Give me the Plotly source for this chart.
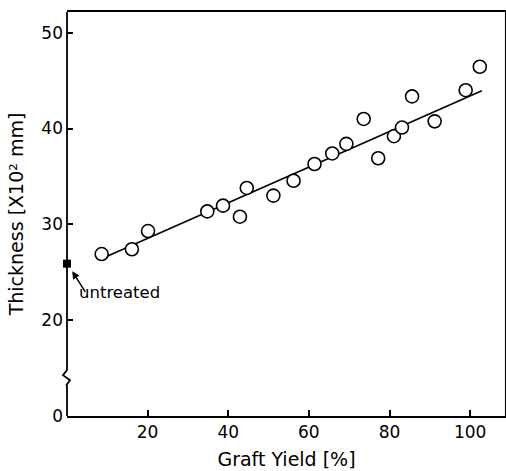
import plotly.graph_objects as go

# Data
graft_yield = [8.6, 16.1, 20.1, 34.8, 38.7, 42.9, 44.6, 51.2, 56.2, 61.4, 65.8,
               69.3, 73.6, 77.2, 81.1, 83.1, 85.6, 91.2, 98.9, 102.4]
thickness = [26.9, 27.4, 29.3, 31.35, 31.95, 30.8, 33.8, 33.0, 34.55, 36.3, 37.4,
             38.4, 41.0, 36.9, 39.2, 40.1, 43.35, 40.75, 44.0, 46.45]
fit_x = [10.1, 102.9]
fit_y = [26.7, 43.95]
untreated_x = [0]
untreated_y = [25.9]

x_ticks = [20, 40, 60, 80, 100]
y_tickvals = [10, 20, 30, 40, 50]   # position 10 shows the broken-axis "0"
y_ticktext = ["0", "20", "30", "40", "50"]

FONT = "DejaVu Sans"

fig = go.Figure()
fig.add_trace(go.Scatter(x=fit_x, y=fit_y, mode="lines",
                         line=dict(color="black", width=1.6), showlegend=False))
fig.add_trace(go.Scatter(x=graft_yield, y=thickness, mode="markers",
                         marker=dict(symbol="circle", size=13, color="white",
                                     line=dict(color="black", width=1.6)),
                         showlegend=False))
fig.add_trace(go.Scatter(x=untreated_x, y=untreated_y, mode="markers",
                         marker=dict(symbol="square", size=8, color="black"),
                         cliponaxis=False, showlegend=False))

# Left axis line with break squiggle
fig.add_shape(type="path", xref="paper", yref="y",
              path="M 0,52.16 L 0,14.8 L -0.0091,14.26 L 0.0068,13.74 L -0.001,13.25 L 0,13.1 L 0,10",
              line=dict(color="black", width=1.8))
# Right border
fig.add_shape(type="line", xref="paper", yref="paper", x0=0.999, x1=0.999, y0=0, y1=1,
              line=dict(color="black", width=1.2))

fig.add_annotation(x=1.3, y=25.1, ax=14, ay=22, text="", showarrow=True,
                   arrowhead=2, arrowsize=1, arrowwidth=1.5, arrowcolor="black")
fig.add_annotation(x=2.4, y=22.9, text="untreated", showarrow=False,
                   xanchor="left", yanchor="middle",
                   font=dict(family=FONT, size=16.5, color="black"))

fig.update_layout(
    width=506, height=471,
    margin=dict(l=67, r=0, t=12, b=55),
    plot_bgcolor="white", paper_bgcolor="white",
    font=dict(family=FONT, size=17, color="black"),
    xaxis=dict(range=[0, 108.9], tickvals=x_ticks, ticks="inside", ticklen=6,
               tickwidth=1.5, tickcolor="black", showline=True, linecolor="black",
               linewidth=1.8, mirror=True, showgrid=False, zeroline=False,
               title=dict(text="Graft Yield [%]", font=dict(family=FONT, size=19),
                          standoff=11)),
    yaxis=dict(range=[10, 52.16], tickvals=y_tickvals, ticktext=y_ticktext,
               ticks="inside", ticklen=6, tickwidth=1.5, tickcolor="black",
               ticklabelstandoff=3,
               showline=False, showgrid=False, zeroline=False,
               title=dict(text="Thickness [X10² mm]", font=dict(family=FONT, size=19),
                          standoff=12)),
)

fig.write_html("out.html")
